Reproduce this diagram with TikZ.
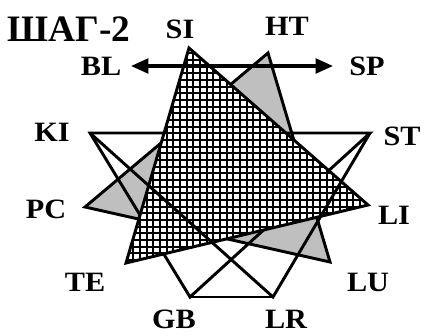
\documentclass[tikz,border=0pt]{standalone}
\usepackage{fontspec}
\setmainfont[FakeStretch=1.08]{Liberation Serif}
\newfontfamily\titlefont{Liberation Serif}
\usetikzlibrary{arrows.meta}
\begin{document}
\begin{tikzpicture}[x=0.75pt,y=-0.75pt]
\tikzstyle{every node}+=[inner sep=0pt,font=\fontsize{21}{21}\selectfont\bfseries]
\tikzstyle{edge}=[black,line width=2.2pt,line join=miter]
\tikzstyle{gridline}=[black,line width=1.7pt]
\tikzstyle{twoway}=[black,line width=2.4pt,{Triangle[length=13pt,width=11pt]}-{Triangle[length=13pt,width=11pt]}]
\useasboundingbox (0,0) rectangle (424,335);
% points of the star
\coordinate (si) at (189,48);
\coordinate (ht) at (268,53);
\coordinate (st) at (370,133);
\coordinate (li) at (368,205);
\coordinate (lu) at (330,262);
\coordinate (lr) at (273,297);
\coordinate (gb) at (190,297);
\coordinate (te) at (126,263);
\coordinate (pc) at (85,207);
\coordinate (ki) at (90,133);
\coordinate (blend) at (131,66);
\coordinate (spend) at (333,66);
% labels
\node (title) at (69,29) {\titlefont\fontsize{28}{28}\selectfont\bfseries ШАГ-2};
\node (silab) at (180,29) {SI};
\node (htlab) at (287,26) {HT};
\node (bllab) at (101,66) {BL};
\node (splab) at (367,66) {SP};
\node (kilab) at (52,132) {KI};
\node (stlab) at (402,136) {ST};
\node (pclab) at (46,209) {PC};
\node (lilab) at (394,215) {LI};
\node (telab) at (85,282) {TE};
\node (lulab) at (368,282) {LU};
\node (gblab) at (174,319) {GB};
\node (lrlab) at (286,319) {LR};
% gray triangle
\filldraw [edge,fill=black!25] (ht) -- (lu) -- (pc) -- cycle;
% white triangle under the grid
\draw [edge] (ki) -- (st) -- (gb) -- cycle;
% grid triangle
\fill [white] (si) -- (li) -- (te) -- cycle;
\begin{scope}
\clip (si) -- (li) -- (te) -- cycle;
\draw [gridline] (100,40) grid [step=5pt] (380,270);
\end{scope}
\draw [edge] (si) -- (li) -- (te) -- cycle;
% lines over the grid
\draw [edge] (ki) -- (lr) -- (st);
\draw [edge] (gb) -- (lr);
% arrow
\draw [twoway] (blend) -- (spend);
\end{tikzpicture}
\end{document}
